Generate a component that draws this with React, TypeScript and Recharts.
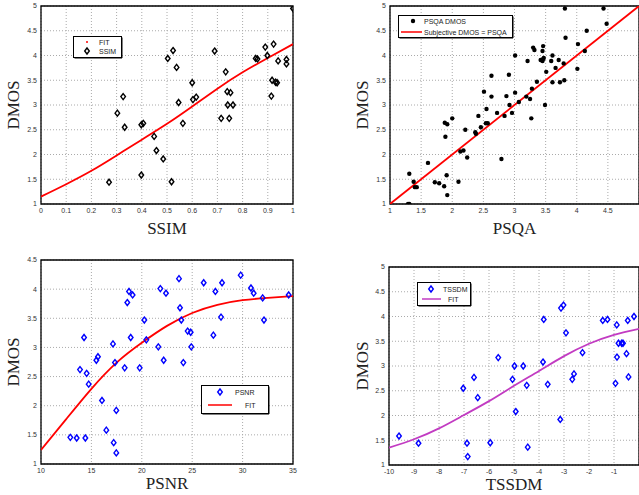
import React from "react";
import {
  ComposedChart,
  Scatter,
  Line,
  XAxis,
  YAxis,
  CartesianGrid,
  ReferenceArea,
  Label,
} from "recharts";

// --- SSIM panel ---
const ssimX = [0.27, 0.303, 0.326, 0.332, 0.398, 0.406, 0.398, 0.449, 0.458, 0.485, 0.518, 0.503, 0.524, 0.538, 0.546, 0.563, 0.6, 0.603, 0.616, 0.689, 0.715, 0.733, 0.739, 0.741, 0.747, 0.752, 0.762, 0.852, 0.859, 0.89, 0.898, 0.923, 0.917, 0.914, 0.931, 0.937, 0.941, 0.974, 0.974, 1.0];
const ssimDmos = [1.44, 2.835, 3.17, 2.55, 2.6, 2.63, 1.585, 2.365, 2.08, 1.91, 1.45, 3.94, 4.1, 3.76, 3.05, 2.63, 3.45, 3.11, 3.16, 4.09, 2.73, 3.67, 3.27, 3.0, 2.73, 3.25, 3.0, 3.94, 3.93, 4.17, 4.0, 4.23, 3.5, 3.18, 3.46, 3.45, 3.89, 3.92, 3.83, 4.95];
const ssimFitX = [0, 0.1, 0.2, 0.3, 0.4, 0.5, 0.6, 0.7, 0.8, 0.9, 1];
const ssimFitY = [1.15, 1.4, 1.67, 1.98, 2.3, 2.62, 2.97, 3.33, 3.66, 3.95, 4.23];
const ssimTicks = [0, 0.1, 0.2, 0.3, 0.4, 0.5, 0.6, 0.7, 0.8, 0.9, 1];
const dmosTicks5 = [1, 1.5, 2, 2.5, 3, 3.5, 4, 4.5, 5];

// --- PSQA panel ---
const psqaX = [1.29, 1.31, 1.31, 1.38, 1.4, 1.43, 1.61, 1.72, 1.79, 1.87, 1.91, 1.92, 1.88, 1.92, 1.89, 2.0, 2.1, 2.13, 2.18, 2.21, 2.24, 2.37, 2.38, 2.42, 2.46, 2.51, 2.55, 2.54, 2.57, 2.63, 2.63, 2.72, 2.79, 2.84, 2.87, 2.91, 2.92, 2.96, 3.01, 3.01, 3.07, 3.19, 3.21, 3.25, 3.28, 3.27, 3.3, 3.32, 3.36, 3.42, 3.45, 3.46, 3.46, 3.45, 3.47, 3.49, 3.51, 3.59, 3.61, 3.61, 3.66, 3.71, 3.73, 3.79, 3.8, 3.81, 3.82, 4.01, 4.02, 4.13, 4.16, 4.43, 4.48];
const psqaDmos = [1.0, 1.0, 1.61, 1.45, 1.34, 1.34, 1.83, 1.44, 1.42, 1.36, 1.58, 1.18, 2.64, 2.61, 2.36, 2.73, 1.45, 2.06, 2.08, 2.5, 1.94, 2.45, 2.42, 2.78, 2.55, 3.27, 2.92, 2.63, 2.63, 3.17, 3.59, 2.84, 1.91, 2.78, 3.18, 3.61, 3.0, 2.84, 3.25, 4.0, 3.06, 3.17, 3.89, 3.12, 3.33, 2.73, 4.16, 4.11, 3.47, 3.91, 4.09, 4.19, 3.93, 3.89, 3.95, 3.0, 3.67, 3.89, 4.0, 3.46, 3.75, 3.91, 3.46, 3.84, 3.5, 4.95, 4.36, 3.73, 4.23, 4.09, 4.5, 4.95, 4.64];
const psqaLineX = [1, 5];
const psqaLineY = [1, 5];
const psqaTicks = [1, 1.5, 2, 2.5, 3, 3.5, 4, 4.5];

// --- PSNR panel ---
const psnrX = [12.91, 13.54, 14.4, 13.87, 14.27, 14.53, 14.73, 15.49, 15.65, 16.05, 16.48, 17.14, 17.21, 17.34, 17.47, 17.47, 18.3, 18.56, 18.73, 18.9, 19.09, 19.79, 20.25, 20.45, 21.64, 21.84, 22.17, 22.4, 23.69, 23.79, 23.92, 24.12, 24.55, 24.85, 24.91, 26.14, 27.1, 27.3, 27.86, 27.96, 29.81, 30.83, 31.1, 31.99, 32.12, 34.57];
const psnrDmos = [1.457, 1.446, 1.446, 2.62, 3.17, 2.555, 2.37, 2.78, 2.84, 2.09, 1.58, 3.06, 1.366, 2.74, 1.92, 1.19, 2.65, 3.77, 3.96, 3.17, 3.9, 2.65, 3.47, 3.13, 3.01, 4.01, 2.78, 3.93, 4.18, 3.68, 3.47, 2.74, 3.28, 3.26, 3.01, 4.11, 3.21, 3.96, 3.52, 4.11, 4.24, 4.02, 3.93, 3.85, 3.47, 3.9];
const psnrFitX = [10, 12.5, 15, 17.5, 20, 22.5, 25, 27.5, 30, 32.5, 35];
const psnrFitY = [1.24, 1.77, 2.29, 2.74, 3.08, 3.37, 3.59, 3.73, 3.81, 3.85, 3.88];
const psnrTicks = [10, 15, 20, 25, 30, 35];
const dmosTicks45 = [1, 1.5, 2, 2.5, 3, 3.5, 4, 4.5];

// --- TSSDM panel ---
const tssdmX = [-9.6, -8.82, -7.03, -6.88, -6.85, -6.6, -6.45, -5.95, -5.63, -5.06, -4.98, -4.93, -4.63, -4.49, -4.45, -3.84, -3.81, -3.65, -3.15, -3.12, -3.02, -2.92, -2.67, -2.6, -2.26, -1.45, -1.26, -0.94, -0.89, -0.88, -0.82, -0.69, -0.64, -0.5, -0.45, -0.42, -0.2];
const tssdmDmos = [1.585, 1.44, 2.55, 1.44, 1.17, 2.77, 2.36, 1.45, 3.17, 2.73, 3.0, 2.08, 3.0, 2.61, 1.36, 3.08, 3.94, 2.63, 1.92, 4.17, 4.23, 3.67, 2.73, 2.84, 3.27, 3.92, 3.94, 2.65, 3.83, 3.18, 3.46, 3.46, 3.46, 3.25, 3.92, 2.78, 4.0];
const tssdmFitX = [-10, -9, -8, -7, -6, -5, -4, -3, -2, -1, 0];
const tssdmFitY = [1.35, 1.52, 1.74, 2.01, 2.29, 2.6, 2.9, 3.2, 3.45, 3.63, 3.75];
const tssdmTicks = [-10, -9, -8, -7, -6, -5, -4, -3, -2, -1];

type Pt = { x: number; y: number };
const zip = (xs: number[], ys: number[]): Pt[] => xs.map((x, i) => ({ x, y: ys[i] }));

const tickStyle = { fontSize: 7, fill: "#333", fontFamily: "Liberation Sans, Arial, sans-serif" };
const serif = "Liberation Serif, Times New Roman, serif";

const diamond = (color: string) => (props: any) => {
  const { cx, cy } = props;
  if (cx == null || cy == null) return <g />;
  return (
    <path
      d={`M${cx},${cy - 3}L${cx + 2.3},${cy}L${cx},${cy + 3}L${cx - 2.3},${cy}Z`}
      fill="none"
      stroke={color}
      strokeWidth={1.4}
    />
  );
};

const blackDot = (props: any) => {
  const { cx, cy } = props;
  if (cx == null || cy == null) return <g />;
  return <circle cx={cx} cy={cy} r={2.2} fill="#000" />;
};

interface PanelProps {
  left: number;
  top: number;
  width: number;
  height: number;
  margin: { top: number; right: number; left: number; bottom: number };
  yWidth: number;
  xHeight: number;
  xDomain: [number, number];
  yDomain: [number, number];
  xTicks: number[];
  yTicks: number[];
  points: Pt[];
  fit: Pt[];
  shape: any;
  fitColor: string;
  fitType: "natural" | "linear";
  xLabel: string;
  xLabelDy: number;
  yLabelDx: number;
}

const Panel = (p: PanelProps) => (
  <div style={{ position: "absolute", left: p.left, top: p.top }}>
    <ComposedChart width={p.width} height={p.height} margin={p.margin}>
      <CartesianGrid strokeDasharray="1 2" stroke="#aaa" />
      <XAxis
        type="number"
        dataKey="x"
        domain={p.xDomain}
        ticks={p.xTicks}
        interval={0}
        allowDataOverflow
        height={p.xHeight}
        tickSize={0}
        tickMargin={4}
        axisLine={false}
        tick={tickStyle}
      >
        <Label
          content={(lp: any) => {
            const vb = lp.viewBox;
            return (
              <text x={vb.x + vb.width / 2} y={vb.y + p.xLabelDy} textAnchor="middle" fontFamily={serif} fontSize={17} fill="#222">
                {p.xLabel}
              </text>
            );
          }}
        />
      </XAxis>
      <YAxis
        type="number"
        dataKey="y"
        domain={p.yDomain}
        ticks={p.yTicks}
        interval={0}
        allowDataOverflow
        width={p.yWidth}
        tickSize={0}
        tickMargin={4}
        axisLine={false}
        tick={tickStyle}
      >
        <Label
          content={(lp: any) => {
            const vb = lp.viewBox;
            const x = vb.x + p.yLabelDx;
            const y = vb.y + vb.height / 2;
            return (
              <text x={x} y={y} transform={`rotate(-90, ${x}, ${y})`} textAnchor="middle" fontFamily={serif} fontSize={17} fill="#222">
                DMOS
              </text>
            );
          }}
        />
      </YAxis>
      <ReferenceArea
        x1={p.xDomain[0]}
        x2={p.xDomain[1]}
        y1={p.yDomain[0]}
        y2={p.yDomain[1]}
        fill="none"
        stroke="#000"
        strokeWidth={1.3}
        ifOverflow="visible"
      />
      <Scatter data={p.points} shape={p.shape} isAnimationActive={false} />
      <Line
        data={p.fit}
        dataKey="y"
        type={p.fitType}
        stroke={p.fitColor}
        strokeWidth={1.8}
        dot={false}
        isAnimationActive={false}
      />
    </ComposedChart>
  </div>
);

interface LegendRow {
  label: string;
  icon: "diamond" | "dot" | "line" | "dash";
  color: string;
  iconX: number;
  lineX?: [number, number];
  textX: number;
  y: number;
}

const LegendBox = ({ left, top, width, height, rows }: { left: number; top: number; width: number; height: number; rows: LegendRow[] }) => (
  <svg style={{ position: "absolute", left, top }} width={width + 2} height={height + 2}>
    <rect x={0.5} y={0.5} width={width} height={height} fill="#fff" stroke="#000" strokeWidth={1} />
    <line x1={1.5} y1={height + 1} x2={width + 1} y2={height + 1} stroke="#000" strokeWidth={1} />
    <line x1={width + 1} y1={1.5} x2={width + 1} y2={height + 1} stroke="#000" strokeWidth={1} />
    {rows.map((r) => (
      <g key={r.label}>
        {r.icon === "diamond" && diamond(r.color)({ cx: r.iconX, cy: r.y })}
        {r.icon === "dot" && <circle cx={r.iconX} cy={r.y} r={2.2} fill={r.color} />}
        {r.icon === "dash" && <line x1={r.iconX - 1} y1={r.y} x2={r.iconX + 1} y2={r.y} stroke={r.color} strokeWidth={1.5} />}
        {r.icon === "line" && r.lineX && (
          <line x1={r.lineX[0]} y1={r.y} x2={r.lineX[1]} y2={r.y} stroke={r.color} strokeWidth={1.5} />
        )}
        <text x={r.textX} y={r.y + 2.5} fontSize={7} fontFamily="Liberation Sans, Arial, sans-serif" fill="#222">
          {r.label}
        </text>
      </g>
    ))}
  </svg>
);

export default function App() {
  return (
    <div style={{ position: "absolute", left: 0, top: 0, width: 639, height: 495, background: "#fff", overflow: "hidden" }}>
      <Panel
        left={0}
        top={0}
        width={320}
        height={245}
        margin={{ top: 6, right: 27, left: 0, bottom: 0 }}
        yWidth={41}
        xHeight={41}
        xDomain={[0, 1]}
        yDomain={[1, 5]}
        xTicks={ssimTicks}
        yTicks={dmosTicks5}
        points={zip(ssimX, ssimDmos)}
        fit={zip(ssimFitX, ssimFitY)}
        shape={diamond("#000")}
        fitColor="#ff0000"
        fitType="natural"
        xLabel="SSIM"
        xLabelDy={30}
        yLabelDx={19}
      />
      <Panel
        left={320}
        top={0}
        width={319}
        height={245}
        margin={{ top: 6, right: 0, left: 0, bottom: 0 }}
        yWidth={70}
        xHeight={41}
        xDomain={[1, 5]}
        yDomain={[1, 5]}
        xTicks={psqaTicks}
        yTicks={dmosTicks5}
        points={zip(psqaX, psqaDmos)}
        fit={zip(psqaLineX, psqaLineY)}
        shape={blackDot}
        fitColor="#ff0000"
        fitType="linear"
        xLabel="PSQA"
        xLabelDy={30}
        yLabelDx={48}
      />
      <Panel
        left={0}
        top={245}
        width={320}
        height={250}
        margin={{ top: 15, right: 27, left: 0, bottom: 0 }}
        yWidth={41}
        xHeight={31}
        xDomain={[10, 35]}
        yDomain={[1, 4.5]}
        xTicks={psnrTicks}
        yTicks={dmosTicks45}
        points={zip(psnrX, psnrDmos)}
        fit={zip(psnrFitX, psnrFitY)}
        shape={diamond("#0000ff")}
        fitColor="#ff0000"
        fitType="natural"
        xLabel="PSNR"
        xLabelDy={25}
        yLabelDx={19}
      />
      <Panel
        left={320}
        top={245}
        width={319}
        height={250}
        margin={{ top: 22, right: 0, left: 0, bottom: 0 }}
        yWidth={69}
        xHeight={30}
        xDomain={[-10, 0]}
        yDomain={[1, 5]}
        xTicks={tssdmTicks}
        yTicks={dmosTicks5}
        points={zip(tssdmX, tssdmDmos)}
        fit={zip(tssdmFitX, tssdmFitY)}
        shape={diamond("#0000ff")}
        fitColor="#c23bc2"
        fitType="natural"
        xLabel="TSSDM"
        xLabelDy={25}
        yLabelDx={48}
      />
      <LegendBox
        left={73}
        top={36}
        width={48}
        height={21}
        rows={[
          { label: "FIT", icon: "dash", color: "#ff0000", iconX: 14, textX: 26, y: 6 },
          { label: "SSIM", icon: "diamond", color: "#000", iconX: 14, textX: 26, y: 15 },
        ]}
      />
      <LegendBox
        left={398}
        top={15}
        width={114}
        height={22}
        rows={[
          { label: "PSQA DMOS", icon: "dot", color: "#000", iconX: 15, textX: 26, y: 6 },
          { label: "Subjective DMOS = PSQA", icon: "line", color: "#ff0000", iconX: 0, lineX: [3, 24], textX: 26, y: 17 },
        ]}
      />
      <LegendBox
        left={201}
        top={385}
        width={67}
        height={28}
        rows={[
          { label: "PSNR", icon: "diamond", color: "#0000ff", iconX: 19, textX: 34, y: 7 },
          { label: "FIT", icon: "line", color: "#ff0000", iconX: 0, lineX: [7, 31], textX: 44, y: 20 },
        ]}
      />
      <LegendBox
        left={417}
        top={282}
        width={53}
        height={23}
        rows={[
          { label: "TSSDM", icon: "diamond", color: "#0000ff", iconX: 14, textX: 26, y: 7 },
          { label: "FIT", icon: "line", color: "#c23bc2", iconX: 0, lineX: [5, 24], textX: 31, y: 17 },
        ]}
      />
    </div>
  );
}
